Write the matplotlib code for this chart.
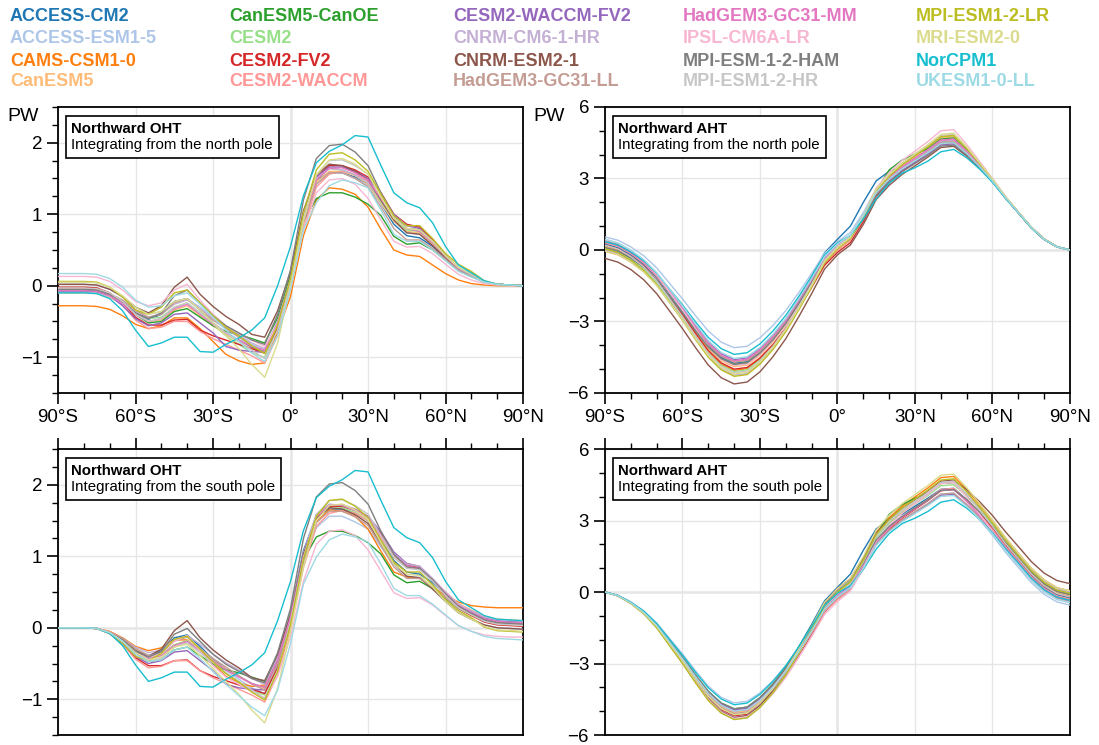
import matplotlib
matplotlib.use("Agg")
import matplotlib.pyplot as plt
import numpy as np
from matplotlib.offsetbox import AnchoredOffsetbox, TextArea, VPacker

plt.rcParams["font.family"] = ["Liberation Sans", "DejaVu Sans"]

# latitude grid of the read-off values (every 5 degrees)
lat = np.arange(-90, 91, 5)

models = [
    "ACCESS-CM2", "ACCESS-ESM1-5", "CAMS-CSM1-0", "CanESM5",
    "CanESM5-CanOE", "CESM2", "CESM2-FV2", "CESM2-WACCM",
    "CESM2-WACCM-FV2", "CNRM-CM6-1-HR", "CNRM-ESM2-1", "HadGEM3-GC31-LL",
    "HadGEM3-GC31-MM", "IPSL-CM6A-LR", "MPI-ESM-1-2-HAM", "MPI-ESM1-2-HR",
    "MPI-ESM1-2-LR", "MRI-ESM2-0", "NorCPM1", "UKESM1-0-LL",
]
colors = list(plt.get_cmap("tab20").colors)

# northward ocean heat transport (PW), integrated from the north pole
oht_north = [
    [-.08, -.08, -.08, -.09, -.14, -.24, -.38, -.47, -.40, -.22, -.18, -.34, -.52, -.66, -.76, -.86, -.92, -.52, .12, 1.00, 1.48, 1.58, 1.58, 1.52, 1.42, 1.15, .86, .70, .67, .55, .38, .23, .14, .06, .02, .01, 0],
    [.02, .02, .02, .01, -.05, -.16, -.30, -.40, -.36, -.22, -.18, -.30, -.44, -.58, -.70, -.82, -.90, -.52, .08, .90, 1.42, 1.58, 1.58, 1.50, 1.40, 1.15, .90, .74, .72, .57, .39, .23, .14, .06, .02, .01, 0],
    [-.28, -.28, -.28, -.29, -.33, -.42, -.54, -.60, -.56, -.45, -.45, -.60, -.78, -.96, -1.05, -1.10, -1.08, -.65, -.15, .70, 1.20, 1.37, 1.35, 1.28, 1.10, .79, .50, .43, .41, .29, .17, .08, .03, .01, 0, 0, 0],
    [-.10, -.10, -.10, -.11, -.16, -.26, -.40, -.50, -.48, -.34, -.28, -.42, -.56, -.68, -.78, -.88, -.95, -.58, .05, .88, 1.45, 1.60, 1.60, 1.54, 1.42, 1.16, .90, .76, .74, .58, .40, .24, .15, .06, .02, .01, 0],
    [-.05, -.05, -.05, -.06, -.12, -.24, -.40, -.52, -.50, -.36, -.32, -.44, -.56, -.64, -.68, -.74, -.80, -.45, .15, .90, 1.22, 1.30, 1.30, 1.24, 1.14, .98, .69, .58, .60, .50, .36, .22, .13, .05, .02, .01, 0],
    [-.06, -.06, -.06, -.07, -.13, -.23, -.37, -.46, -.44, -.30, -.24, -.38, -.54, -.70, -.82, -.94, -1.00, -.60, .08, .92, 1.48, 1.64, 1.62, 1.55, 1.44, 1.18, .92, .78, .76, .60, .41, .25, .15, .06, .02, .01, 0],
    [-.02, -.02, -.02, -.03, -.10, -.24, -.44, -.55, -.55, -.48, -.47, -.62, -.70, -.76, -.82, -.88, -.94, -.58, .06, .95, 1.52, 1.68, 1.68, 1.62, 1.52, 1.30, 1.00, .86, .82, .64, .43, .25, .15, .06, .02, .01, 0],
    [-.04, -.04, -.04, -.05, -.12, -.27, -.48, -.60, -.58, -.50, -.50, -.64, -.74, -.82, -.90, -.98, -1.08, -.70, -.05, .80, 1.38, 1.56, 1.60, 1.56, 1.46, 1.22, .95, .80, .78, .62, .42, .25, .15, .06, .02, .01, 0],
    [-.06, -.06, -.06, -.07, -.14, -.28, -.46, -.56, -.52, -.40, -.38, -.52, -.66, -.85, -.90, -.92, -.93, -.55, .10, .96, 1.52, 1.66, 1.66, 1.60, 1.50, 1.28, 1.00, .84, .80, .62, .42, .25, .15, .06, .02, .01, 0],
    [-.09, -.09, -.09, -.10, -.15, -.24, -.36, -.44, -.40, -.26, -.20, -.32, -.46, -.58, -.68, -.80, -.88, -.50, .10, .96, 1.50, 1.64, 1.62, 1.55, 1.44, 1.20, .95, .80, .77, .60, .41, .24, .15, .06, .02, .01, 0],
    [.02, .02, .02, .01, -.05, -.15, -.30, -.38, -.28, -.02, .12, -.12, -.29, -.43, -.54, -.68, -.72, -.35, .20, 1.05, 1.55, 1.70, 1.68, 1.60, 1.48, 1.20, .92, .74, .72, .56, .39, .23, .14, .06, .02, .01, 0],
    [-.05, -.05, -.05, -.06, -.11, -.20, -.34, -.44, -.40, -.24, -.18, -.34, -.48, -.60, -.72, -.84, -.92, -.55, .05, .88, 1.42, 1.58, 1.58, 1.50, 1.38, 1.10, .80, .64, .64, .52, .37, .22, .14, .06, .02, .01, 0],
    [-.07, -.07, -.07, -.08, -.14, -.25, -.40, -.50, -.46, -.32, -.26, -.40, -.54, -.66, -.76, -.85, -.90, -.52, .08, .92, 1.48, 1.64, 1.65, 1.58, 1.48, 1.22, .95, .80, .76, .60, .41, .24, .15, .06, .02, .01, 0],
    [.13, .13, .13, .12, .06, -.06, -.22, -.28, -.24, -.06, .02, -.20, -.40, -.56, -.66, -.76, -.85, -.55, .00, .78, 1.30, 1.48, 1.50, 1.42, 1.22, .92, .62, .54, .55, .45, .30, .16, .08, .03, .01, 0, 0],
    [-.05, -.05, -.05, -.06, -.12, -.22, -.38, -.46, -.38, -.14, -.06, -.24, -.42, -.56, -.66, -.76, -.82, -.40, .22, 1.20, 1.78, 1.96, 1.98, 1.87, 1.68, 1.30, .98, .80, .78, .62, .42, .25, .15, .06, .02, .01, 0],
    [-.03, -.03, -.03, -.04, -.10, -.22, -.40, -.50, -.46, -.30, -.24, -.38, -.52, -.66, -.78, -.90, -1.02, -.62, .05, .95, 1.55, 1.75, 1.76, 1.68, 1.56, 1.26, .96, .80, .78, .62, .42, .25, .15, .06, .02, .01, 0],
    [.06, .06, .06, .05, -.02, -.16, -.34, -.40, -.30, -.10, -.06, -.24, -.42, -.58, -.70, -.84, -.95, -.55, .10, 1.02, 1.62, 1.84, 1.86, 1.76, 1.60, 1.28, .98, .84, .84, .66, .45, .30, .20, .07, .02, .01, 0],
    [.05, .05, .05, .04, -.02, -.14, -.30, -.40, -.36, -.22, -.18, -.34, -.52, -.70, -.88, -1.10, -1.28, -.80, .00, .90, 1.55, 1.76, 1.78, 1.70, 1.56, 1.24, .94, .80, .78, .62, .42, .26, .17, .07, .02, .01, 0],
    [-.10, -.10, -.10, -.11, -.18, -.35, -.62, -.85, -.80, -.72, -.72, -.92, -.93, -.82, -.73, -.62, -.45, .00, .55, 1.26, 1.72, 1.88, 1.97, 2.10, 2.08, 1.68, 1.30, 1.16, 1.09, .88, .55, .29, .18, .07, .02, .01, 0],
    [.17, .17, .17, .16, .10, -.02, -.20, -.30, -.28, -.14, -.10, -.26, -.44, -.62, -.78, -.94, -1.06, -.70, -.05, .78, 1.16, 1.40, 1.48, 1.44, 1.37, 1.06, .72, .62, .62, .50, .35, .20, .12, .05, .02, .01, 0],
]

# northward atmospheric heat transport (PW), integrated from the north pole
aht_north = [
    [.25, .10, -.20, -.60, -1.15, -1.85, -2.55, -3.30, -4.00, -4.50, -4.75, -4.68, -4.26, -3.66, -2.93, -2.05, -1.11, -.12, .45, 1.00, 2.00, 2.90, 3.30, 3.52, 3.85, 4.19, 4.56, 4.60, 4.12, 3.54, 2.91, 2.20, 1.57, .94, .45, .13, 0],
    [.55, .41, .13, -.24, -.75, -1.40, -2.05, -2.75, -3.40, -3.87, -4.10, -4.04, -3.68, -3.17, -2.54, -1.79, -.98, -.14, .35, .74, 1.57, 2.57, 3.13, 3.57, 3.92, 4.27, 4.66, 4.70, 4.19, 3.58, 2.93, 2.22, 1.58, .95, .45, .13, 0],
    [-.05, -.20, -.50, -.90, -1.45, -2.15, -2.85, -3.60, -4.30, -4.80, -5.05, -4.98, -4.57, -3.99, -3.28, -2.42, -1.51, -.56, .00, .43, 1.34, 2.45, 3.07, 3.55, 3.94, 4.32, 4.75, 4.80, 4.26, 3.62, 2.95, 2.23, 1.58, .95, .46, .13, 0],
    [.15, .00, -.30, -.71, -1.26, -1.97, -2.68, -3.44, -4.14, -4.65, -4.90, -4.83, -4.42, -3.85, -3.15, -2.30, -1.40, -.45, .10, .52, 1.40, 2.47, 3.08, 3.54, 3.91, 4.29, 4.70, 4.75, 4.22, 3.60, 2.94, 2.22, 1.58, .95, .46, .13, 0],
    [.10, -.05, -.34, -.73, -1.27, -1.96, -2.64, -3.38, -4.07, -4.56, -4.80, -4.73, -4.33, -3.76, -3.07, -2.23, -1.33, -.39, .15, .56, 1.42, 2.47, 3.36, 3.77, 4.03, 4.25, 4.65, 4.70, 4.19, 3.58, 2.93, 2.22, 1.58, .95, .45, .13, 0],
    [.05, -.10, -.41, -.83, -1.39, -2.11, -2.83, -3.61, -4.33, -4.84, -5.10, -5.03, -4.61, -4.02, -3.30, -2.42, -1.49, -.52, .05, .46, 1.31, 2.35, 2.93, 3.38, 3.74, 4.10, 4.51, 4.55, 4.08, 3.52, 2.90, 2.20, 1.57, .94, .45, .13, 0],
    [.20, .04, -.27, -.68, -1.26, -1.98, -2.71, -3.49, -4.22, -4.74, -5.00, -4.93, -4.53, -3.97, -3.28, -2.45, -1.57, -.64, -.10, .31, 1.19, 2.25, 2.84, 3.30, 3.67, 4.04, 4.45, 4.50, 4.05, 3.50, 2.89, 2.20, 1.57, .94, .45, .13, 0],
    [.30, .15, -.15, -.55, -1.10, -1.80, -2.50, -3.25, -3.95, -4.45, -4.70, -4.63, -4.25, -3.71, -3.05, -2.26, -1.41, -.52, .00, .42, 1.30, 2.37, 2.98, 3.44, 3.81, 4.19, 4.60, 4.65, 4.15, 3.56, 2.92, 2.21, 1.58, .95, .45, .13, 0],
    [.35, .20, -.10, -.49, -1.04, -1.73, -2.42, -3.16, -3.86, -4.35, -4.60, -4.53, -4.14, -3.59, -2.92, -2.10, -1.24, -.33, .20, .58, 1.39, 2.37, 2.92, 3.35, 3.69, 4.03, 4.41, 4.45, 4.01, 3.48, 2.88, 2.19, 1.57, .94, .45, .13, 0],
    [.00, -.16, -.47, -.89, -1.47, -2.21, -2.94, -3.73, -4.46, -4.99, -5.25, -5.18, -4.74, -4.13, -3.38, -2.47, -1.50, -.49, .10, .51, 1.36, 2.40, 2.98, 3.43, 3.79, 4.15, 4.56, 4.60, 4.12, 3.54, 2.91, 2.20, 1.57, .94, .45, .13, 0],
    [-.35, -.51, -.82, -1.25, -1.83, -2.56, -3.30, -4.09, -4.83, -5.36, -5.62, -5.54, -5.11, -4.48, -3.72, -2.80, -1.83, -.80, -.20, .21, 1.07, 2.12, 2.71, 3.17, 3.53, 3.90, 4.30, 4.35, 3.94, 3.44, 2.86, 2.18, 1.56, .93, .44, .13, 0],
    [.40, .25, -.06, -.47, -1.03, -1.74, -2.46, -3.22, -3.94, -4.45, -4.70, -4.63, -4.24, -3.68, -3.00, -2.18, -1.30, -.38, .15, .55, 1.38, 2.39, 2.97, 3.41, 3.76, 4.11, 4.51, 4.55, 4.08, 3.52, 2.90, 2.20, 1.57, .94, .45, .13, 0],
    [.35, .20, -.10, -.50, -1.05, -1.75, -2.45, -3.20, -3.90, -4.40, -4.65, -4.58, -4.19, -3.63, -2.95, -2.13, -1.25, -.33, .20, .60, 1.45, 2.47, 3.05, 3.49, 3.85, 4.21, 4.61, 4.65, 4.15, 3.56, 2.92, 2.21, 1.58, .95, .45, .13, 0],
    [.45, .29, -.03, -.45, -1.03, -1.78, -2.52, -3.31, -4.06, -4.59, -4.85, -4.78, -4.38, -3.82, -3.13, -2.30, -1.42, -.49, .05, .50, 1.45, 2.60, 3.25, 3.75, 4.15, 4.55, 5.00, 5.05, 4.43, 3.72, 3.00, 2.25, 1.60, .97, .47, .14, 0],
    [.10, -.05, -.34, -.73, -1.27, -1.96, -2.64, -3.38, -4.07, -4.56, -4.80, -4.73, -4.33, -3.77, -3.08, -2.25, -1.37, -.44, .10, .49, 1.30, 2.29, 2.85, 3.28, 3.63, 3.97, 4.36, 4.40, 3.98, 3.46, 2.87, 2.19, 1.56, .93, .45, .13, 0],
    [.20, .04, -.28, -.71, -1.30, -2.05, -2.80, -3.60, -4.35, -4.88, -5.15, -5.08, -4.65, -4.04, -3.29, -2.39, -1.44, -.43, .15, .57, 1.47, 2.55, 3.16, 3.63, 4.00, 4.38, 4.80, 4.85, 4.29, 3.64, 2.96, 2.23, 1.59, .96, .46, .13, 0],
    [.05, -.11, -.43, -.86, -1.45, -2.20, -2.95, -3.75, -4.50, -5.03, -5.30, -5.23, -4.79, -4.18, -3.43, -2.52, -1.55, -.54, .05, .48, 1.38, 2.47, 3.09, 3.57, 3.95, 4.33, 4.75, 4.80, 4.26, 3.62, 2.95, 2.23, 1.58, .95, .46, .13, 0],
    [-.05, -.20, -.51, -.93, -1.49, -2.21, -2.93, -3.71, -4.43, -4.94, -5.20, -5.13, -4.70, -4.09, -3.34, -2.44, -1.49, -.48, .10, .53, 1.44, 2.55, 3.17, 3.65, 4.04, 4.42, 4.85, 4.90, 4.33, 3.66, 2.97, 2.24, 1.59, .96, .46, .13, 0],
    [.35, .21, -.08, -.45, -.97, -1.64, -2.30, -3.01, -3.67, -4.14, -4.38, -4.31, -3.94, -3.40, -2.74, -1.95, -1.10, -.21, .30, .62, 1.30, 2.15, 2.80, 3.22, 3.45, 3.73, 4.12, 4.22, 3.87, 3.40, 2.84, 2.17, 1.56, .93, .44, .13, 0],
    [.45, .30, .00, -.40, -.95, -1.65, -2.35, -3.10, -3.80, -4.30, -4.55, -4.48, -4.09, -3.54, -2.87, -2.05, -1.19, -.28, .25, .63, 1.44, 2.42, 2.97, 3.40, 3.74, 4.08, 4.46, 4.50, 4.05, 3.50, 2.89, 2.20, 1.57, .94, .45, .13, 0],
]

oht_north = np.array(oht_north)
aht_north = np.array(aht_north)
# integrating from the south pole only shifts each curve by its value at 90S
oht_south = oht_north - oht_north[:, :1]
aht_south = aht_north - aht_north[:, :1]

xticks = [-90, -60, -30, 0, 30, 60, 90]
xticklabels = ["90°S", "60°S", "30°S", "0°", "30°N", "60°N", "90°N"]

fig = plt.figure(figsize=(10.99, 7.45), dpi=100)

w, h = 0.4231, 0.3839
panels = [
    # (rect, data, ylim, yticks, minor step, title, subtitle, top row)
    ([0.0528, 0.4725, w, h], oht_north, (-1.5, 2.5), [-1, 0, 1, 2], 0.25,
     "Northward OHT", "Integrating from the north pole", True),
    ([0.5505, 0.4725, w, h], aht_north, (-6, 6), [-6, -3, 0, 3, 6], 1,
     "Northward AHT", "Integrating from the north pole", True),
    ([0.0528, 0.0134, w, h], oht_south, (-1.5, 2.5), [-1, 0, 1, 2], 0.25,
     "Northward OHT", "Integrating from the south pole", False),
    ([0.5505, 0.0134, w, h], aht_south, (-6, 6), [-6, -3, 0, 3, 6], 1,
     "Northward AHT", "Integrating from the south pole", False),
]

for rect, data, ylim, yticks, ystep, title, subtitle, top_row in panels:
    ax = fig.add_axes(rect)
    for i in range(len(models)):
        ax.plot(lat, data[i], color=colors[i], lw=1.0, zorder=3)

    ax.set_xlim(-90, 90)
    ax.set_ylim(*ylim)
    ax.set_xticks(xticks)
    ax.set_xticks(np.arange(-90, 91, 10), minor=True)
    ax.set_yticks(yticks)
    ax.set_yticks(np.arange(ylim[0], ylim[1] + 0.001, ystep), minor=True)
    ax.grid(True, which="major", color="#e6e6e6", lw=1.0, zorder=0)
    ax.axhline(0, color="#a8a8a8", lw=1.0, zorder=1)
    ax.axvline(0, color="#a8a8a8", lw=1.0, zorder=1)

    if top_row:
        ax.set_xticklabels(xticklabels)
    else:
        ax.xaxis.tick_top()
        ax.tick_params(axis="x", which="both", labeltop=False)

    ax.tick_params(which="major", direction="out", length=8, width=1.2, labelsize=13.5)
    ax.tick_params(which="minor", direction="out", length=4.5, width=1.0)
    for sp in ax.spines.values():
        sp.set_linewidth(1.3)

    box = VPacker(children=[
        TextArea(title, textprops=dict(fontsize=10.8, fontweight="bold")),
        TextArea(subtitle, textprops=dict(fontsize=10.8)),
    ], align="left", pad=0, sep=2)
    anchored = AnchoredOffsetbox(loc="upper left", child=box, pad=0.4, borderpad=0,
                                 frameon=True, bbox_to_anchor=(0.017, 0.968),
                                 bbox_transform=ax.transAxes)
    anchored.patch.set_boxstyle("square,pad=0")
    anchored.patch.set_edgecolor("black")
    anchored.patch.set_linewidth(1.2)
    anchored.zorder = 5
    ax.add_artist(anchored)

fig.text(0.007, 0.8436, "PW", fontsize=14, va="center")
fig.text(0.485, 0.8436, "PW", fontsize=14, va="center")

# legend as coloured model names, 5 columns x 4 rows
col_x = [0.009, 0.209, 0.412, 0.621, 0.833]
row_y = [0.978, 0.948, 0.918, 0.890]
for i, name in enumerate(models):
    fig.text(col_x[i // 4], row_y[i % 4], name, color=colors[i],
             fontsize=13, fontweight="bold", va="center", ha="left")

fig.savefig("out.png", dpi=100)
